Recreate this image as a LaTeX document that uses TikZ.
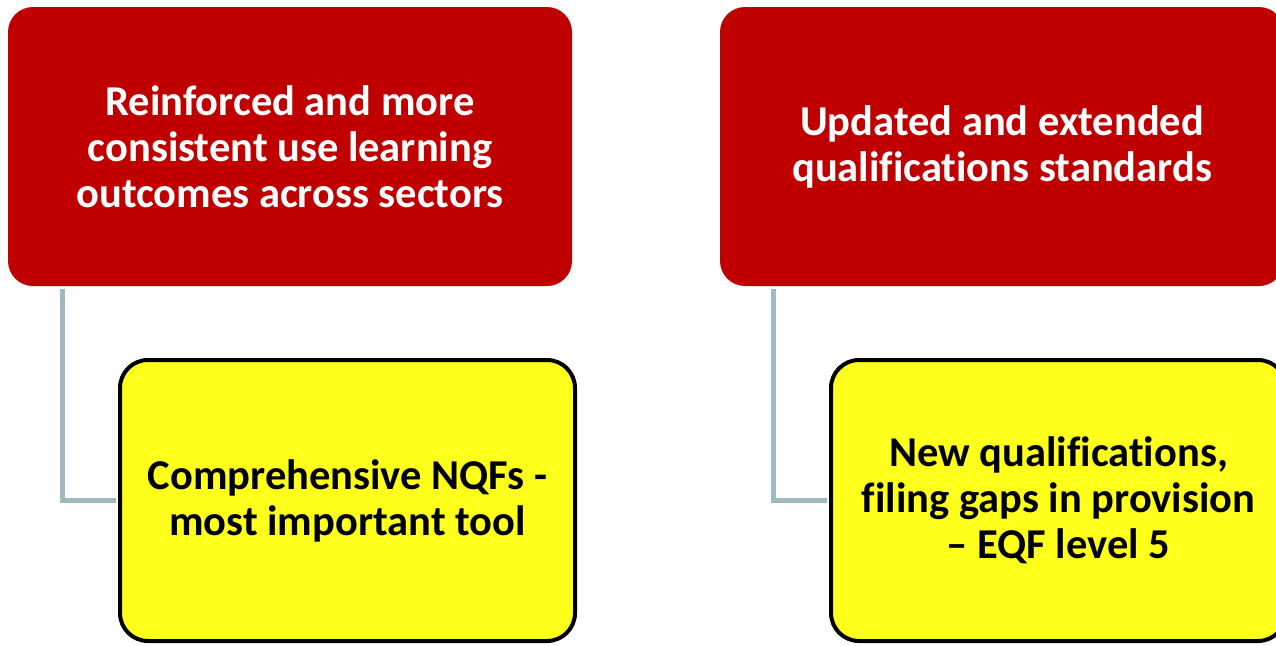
\documentclass[tikz,border=0pt]{standalone}
\usepackage{fontspec}
\setmainfont{Carlito}[Ligatures=CommonOff]
\definecolor{boxred}{HTML}{C00000}
\definecolor{boxyellow}{HTML}{FFFF1C}
\definecolor{connc}{HTML}{A0B9BE}
\tikzset{
  redbox/.style={fill=boxred, draw=none, rounded corners=25pt, minimum width=564pt, minimum height=279pt,
    text=white, align=center, font=\fontsize{42.5}{46}\selectfont\bfseries},
  yellowbox/.style={fill=boxyellow, draw=black, line width=4pt, rounded corners=28pt, minimum width=455pt, minimum height=281pt,
    text=black, align=center, font=\fontsize{42.5}{46}\selectfont\bfseries},
  conn/.style={draw=connc, line width=5pt, shorten >=2pt}
}
\begin{document}
\begin{tikzpicture}[x=1pt,y=-1pt]
\useasboundingbox (0,0) rectangle (1276,645);
\clip (0,0) rectangle (1276,645);
\node[redbox] (lr) at (290,146.5) {Reinforced and more\\consistent use learning\\outcomes across sectors};
\node[redbox] (rr) at (1002,146.5) {Updated and extended\\qualifications standards};
\node[yellowbox] (ly) at (347.5,500.5) {Comprehensive NQFs -\\most important tool};
\node[yellowbox] (ry) at (1058.5,500.5) {New qualifications,\\filing gaps in provision\\– EQF level 5};
\draw[conn] ([xshift=55pt,yshift=-3pt]lr.south west) |- (ly.west);
\draw[conn] ([xshift=54pt,yshift=-3pt]rr.south west) |- (ry.west);
\end{tikzpicture}
\end{document}
